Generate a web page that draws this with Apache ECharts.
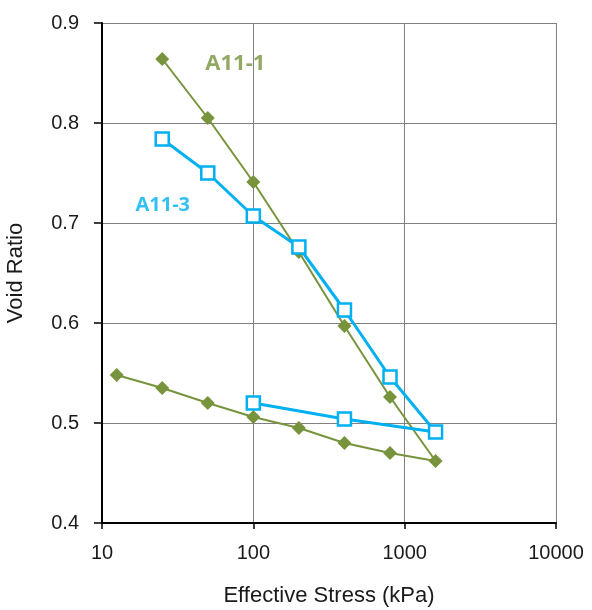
<!DOCTYPE html>
<html><head><meta charset="utf-8">
<script src="https://cdn.jsdelivr.net/npm/echarts@6/dist/echarts.min.js"></script>
<style>html,body{margin:0;padding:0;background:#fff}#c{width:592px;height:610px}</style>
</head><body><div id="c"></div>
<script>
const stressA111 = [25, 50, 100, 200, 400, 800, 1600, 800, 400, 200, 100, 50, 25, 12.5];
const voidA111 = [0.864, 0.805, 0.741, 0.671, 0.597, 0.526, 0.462, 0.470, 0.480, 0.495, 0.506, 0.520, 0.535, 0.548];
const stressA113 = [25, 50, 100, 200, 400, 800, 1600, 400, 100];
const voidA113 = [0.784, 0.750, 0.707, 0.676, 0.613, 0.546, 0.491, 0.504, 0.520];
const seriesNames = ['A11-1', 'A11-3'];
const labelPos = [[76, 0.859], [25.2, 0.718]];
const xTicks = [10, 100, 1000, 10000];
const yMin = 0.4, yMax = 0.9, yStep = 0.1;
const xTitle = 'Effective Stress (kPa)';
const yTitle = 'Void Ratio';

const green = '#77933C', blue = '#00B0F0';
const chart = echarts.init(document.getElementById('c'));
const pair = (xs, ys) => xs.map((x, i) => [x, ys[i]]);
const tickFont = {fontFamily: 'Liberation Sans', fontSize: 20, color: '#1a1a1a'};
const titleFont = {fontFamily: 'Liberation Sans', fontSize: 22, color: '#1a1a1a'};
chart.setOption({
  animation: false,
  grid: {left: 102, right: 36, top: 23, bottom: 87, containLabel: false, outerBoundsMode: 'none'},
  xAxis: {
    type: 'log', logBase: 10, min: xTicks[0], max: xTicks[xTicks.length - 1],
    name: xTitle, nameLocation: 'middle', nameGap: 62,
    nameTextStyle: titleFont,
    axisLine: {show: true, onZero: false, lineStyle: {color: '#000', width: 2}},
    axisTick: {show: true, length: 6, lineStyle: {color: '#000', width: 1.5}},
    minorTick: {show: false},
    axisLabel: Object.assign({margin: 20, formatter: v => String(Math.round(v))}, tickFont),
    splitLine: {show: true, lineStyle: {color: '#808080', width: 1}}
  },
  yAxis: {
    type: 'value', min: yMin, max: yMax, interval: yStep,
    name: yTitle, nameLocation: 'middle', nameGap: 75, nameRotate: 90,
    nameTextStyle: titleFont,
    axisLine: {show: true, onZero: false, lineStyle: {color: '#000', width: 2}},
    axisTick: {show: true, length: 8, lineStyle: {color: '#000', width: 1.5}},
    axisLabel: Object.assign({margin: 23, formatter: v => v.toFixed(1)}, tickFont),
    splitLine: {show: true, lineStyle: {color: '#808080', width: 1}}
  },
  series: [
    {
      name: seriesNames[0], type: 'line', data: pair(stressA111, voidA111),
      symbol: 'diamond', symbolSize: 14,
      itemStyle: {color: green},
      lineStyle: {color: green, width: 2}, z: 2
    },
    {
      name: seriesNames[1], type: 'line', data: pair(stressA113, voidA113),
      symbol: 'rect', symbolSize: 13,
      itemStyle: {color: '#fff', borderColor: blue, borderWidth: 2.5},
      lineStyle: {color: blue, width: 3}, z: 3
    },
    {
      type: 'scatter', symbolSize: 0, silent: true, z: 5,
      data: [
        {value: labelPos[0], label: {show: true, position: 'inside', formatter: seriesNames[0], color: green, fontSize: 22, fontWeight: 'bold', fontFamily: 'Open Sans'}},
        {value: labelPos[1], label: {show: true, position: 'inside', formatter: seriesNames[1], color: blue, fontSize: 20, fontWeight: 'bold', fontFamily: 'Open Sans'}}
      ]
    }
  ]
});
</script></body></html>
